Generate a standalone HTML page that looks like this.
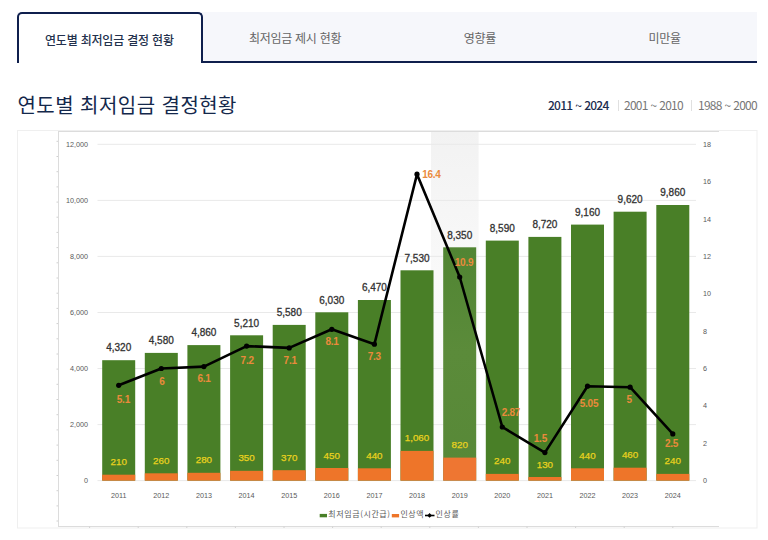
<!DOCTYPE html>
<html lang="ko"><head><meta charset="utf-8"><title>연도별 최저임금 결정현황</title>
<style>
*{margin:0;padding:0;box-sizing:border-box}
html,body{width:768px;height:540px;overflow:hidden;background:#fff}
body{position:relative;font-family:"Liberation Sans","Noto Sans CJK KR",sans-serif;}
.tabs{position:absolute;left:17px;top:12px;width:740px;height:51px;background:#f6f7fb;border-bottom:2px solid #0f1f4d;display:flex}
.tab{width:185px;height:49px;line-height:52px;text-align:center;font-size:12px;color:#656565;font-family:"Noto Sans CJK KR",sans-serif;letter-spacing:-0.3px}
.tab.on{background:#fff;border:2px solid #0f1f4d;border-bottom:none;border-radius:5px 5px 0 0;height:51px;color:#23314d;font-weight:500;line-height:51.5px;width:186px;letter-spacing:-0.2px;padding-right:1px}
h2{position:absolute;left:17.5px;top:93px;font-family:"Noto Sans CJK KR",sans-serif;font-weight:400;font-size:20px;color:#14284b;letter-spacing:0.45px;line-height:24px}
.per{position:absolute;left:0;top:97px;width:768px;height:16px;font-family:"Noto Sans CJK KR",sans-serif;font-size:12px;color:#777;line-height:16px;letter-spacing:-0.75px}
.per span{position:absolute;top:0;white-space:nowrap}
.per span.on{color:#1c2d4f;font-weight:500}
.per em{font-style:normal;letter-spacing:-0.6px}
.per i{position:absolute;top:3px;width:1px;height:11px;background:#e0e0e0}
.chart{position:absolute;left:0;top:0}
.ax{font-family:"Liberation Sans",sans-serif;font-size:7.2px;fill:#595959}
.vl{font-family:"Liberation Sans",sans-serif;font-size:10px;fill:#333;stroke:#333;stroke-width:0.3px}
.yl{font-family:"Liberation Sans",sans-serif;font-size:9.8px;font-weight:400;stroke:#e9d21e;stroke-width:0.25px;fill:#e9d21e}
.pl{font-family:"Liberation Sans",sans-serif;font-size:10px;font-weight:700;letter-spacing:-0.25px;fill:#ea8a3c}
.lg{font-family:"Noto Sans CJK KR",sans-serif;font-size:8px;letter-spacing:0.6px;fill:#595959}
</style></head><body>
<div class="tabs">
<div class="tab on">연도별 최저임금 결정 현황</div>
<div class="tab">최저임금 제시 현황</div>
<div class="tab">영향률</div>
<div class="tab">미만율</div>
</div>
<h2>연도별 최저임금 결정현황</h2>
<div class="per"><span class="on" style="left:548px">2011<em> ~ </em>2024</span><i style="left:617.5px"></i><span style="left:624px">2001<em> ~ </em>2010</span><i style="left:690.5px"></i><span style="left:698px">1988<em> ~ </em>2000</span></div>
<svg class="chart" width="768" height="540" viewBox="0 0 768 540"><rect x="17.5" y="130.5" width="739.5" height="397.5" fill="none" stroke="#efefef" stroke-width="1"/><path d="M58 131.5 H719 M58.5 131.5 V526.5 M58 526.5 H719" fill="none" stroke="#dcdcdc" stroke-width="1"/><path d="M56.5 141.3 H58 M56.5 156.5 H58 M56.5 171.7 H58 M56.5 186.9 H58 M56.5 202.1 H58 M56.5 217.2 H58 M56.5 232.4 H58 M56.5 247.6 H58 M56.5 262.8 H58 M56.5 278.0 H58 M56.5 293.2 H58 M56.5 308.4 H58 M56.5 323.6 H58 M56.5 338.8 H58 M56.5 354.0 H58 M56.5 369.1 H58 M56.5 384.3 H58 M56.5 399.5 H58 M56.5 414.7 H58 M56.5 429.9 H58 M56.5 445.1 H58 M56.5 460.3 H58 M56.5 475.5 H58 M56.5 490.7 H58 M56.5 505.9 H58 M56.5 521.0 H58 M89.6 526.5 V528 M138.2 526.5 V528 M186.8 526.5 V528 M235.4 526.5 V528 M284.0 526.5 V528 M332.6 526.5 V528 M381.2 526.5 V528 M429.8 526.5 V528 M478.4 526.5 V528 M527.0 526.5 V528 M575.6 526.5 V528 M624.2 526.5 V528 M672.8 526.5 V528" stroke="#d0d0d0" stroke-width="1"/><defs><linearGradient id="g19" x1="0" y1="0" x2="0" y2="1"><stop offset="0" stop-color="#518533"/><stop offset="0.45" stop-color="#5b8b3a"/><stop offset="1" stop-color="#578837"/></linearGradient><linearGradient id="bg" x1="0" y1="0" x2="0" y2="1"><stop offset="0" stop-color="#f2f2f2"/><stop offset="0.4" stop-color="#f9f9f9"/><stop offset="1" stop-color="#fdfdfd"/></linearGradient></defs><rect x="431" y="132" width="47.6" height="348.6" fill="url(#bg)"/><path d="M97.5 480.6 H696 M97.5 424.6 H696 M97.5 368.5 H696 M97.5 312.5 H696 M97.5 256.4 H696 M97.5 200.4 H696 M97.5 144.3 H696" stroke="#e9e9e9" stroke-width="1"/><text x="88" y="483.1" class="ax" text-anchor="end">0</text><text x="88" y="427.1" class="ax" text-anchor="end">2,000</text><text x="88" y="371.0" class="ax" text-anchor="end">4,000</text><text x="88" y="315.0" class="ax" text-anchor="end">6,000</text><text x="88" y="258.9" class="ax" text-anchor="end">8,000</text><text x="88" y="202.9" class="ax" text-anchor="end">10,000</text><text x="88" y="146.8" class="ax" text-anchor="end">12,000</text><text x="703" y="483.1" class="ax">0</text><text x="703" y="445.7" class="ax">2</text><text x="703" y="408.4" class="ax">4</text><text x="703" y="371.0" class="ax">6</text><text x="703" y="333.6" class="ax">8</text><text x="703" y="296.3" class="ax">10</text><text x="703" y="258.9" class="ax">12</text><text x="703" y="221.5" class="ax">14</text><text x="703" y="184.2" class="ax">16</text><text x="703" y="146.8" class="ax">18</text><rect x="102.2" y="360.2" width="33.0" height="120.4" fill="#497f27"/><rect x="102.2" y="474.7" width="33.0" height="5.9" fill="#ee7529"/><rect x="144.8" y="352.9" width="33.0" height="127.7" fill="#497f27"/><rect x="144.8" y="473.3" width="33.0" height="7.3" fill="#ee7529"/><rect x="187.4" y="345.1" width="33.0" height="135.5" fill="#497f27"/><rect x="187.4" y="472.8" width="33.0" height="7.8" fill="#ee7529"/><rect x="230.1" y="335.3" width="33.0" height="145.3" fill="#497f27"/><rect x="230.1" y="470.8" width="33.0" height="9.8" fill="#ee7529"/><rect x="272.7" y="324.9" width="33.0" height="155.7" fill="#497f27"/><rect x="272.7" y="470.2" width="33.0" height="10.4" fill="#ee7529"/><rect x="315.3" y="312.3" width="33.0" height="168.3" fill="#497f27"/><rect x="315.3" y="468.0" width="33.0" height="12.6" fill="#ee7529"/><rect x="357.9" y="300.0" width="33.0" height="180.6" fill="#497f27"/><rect x="357.9" y="468.3" width="33.0" height="12.3" fill="#ee7529"/><rect x="400.5" y="270.3" width="33.0" height="210.3" fill="#497f27"/><rect x="400.5" y="450.9" width="33.0" height="29.7" fill="#ee7529"/><rect x="443.2" y="247.3" width="33.0" height="233.3" fill="url(#g19)"/><rect x="443.2" y="457.6" width="33.0" height="23.0" fill="#ee7632"/><rect x="485.8" y="240.6" width="33.0" height="240.0" fill="#497f27"/><rect x="485.8" y="473.9" width="33.0" height="6.7" fill="#ee7529"/><rect x="528.4" y="236.9" width="33.0" height="243.7" fill="#497f27"/><rect x="528.4" y="477.0" width="33.0" height="3.6" fill="#ee7529"/><rect x="571.0" y="224.6" width="33.0" height="256.0" fill="#497f27"/><rect x="571.0" y="468.3" width="33.0" height="12.3" fill="#ee7529"/><rect x="613.6" y="211.7" width="33.0" height="268.9" fill="#497f27"/><rect x="613.6" y="467.7" width="33.0" height="12.9" fill="#ee7529"/><rect x="656.3" y="205.0" width="33.0" height="275.6" fill="#497f27"/><rect x="656.3" y="473.9" width="33.0" height="6.7" fill="#ee7529"/><text x="118.7" y="497.6" class="ax" text-anchor="middle">2011</text><text x="161.3" y="497.6" class="ax" text-anchor="middle">2012</text><text x="203.9" y="497.6" class="ax" text-anchor="middle">2013</text><text x="246.6" y="497.6" class="ax" text-anchor="middle">2014</text><text x="289.2" y="497.6" class="ax" text-anchor="middle">2015</text><text x="331.8" y="497.6" class="ax" text-anchor="middle">2016</text><text x="374.4" y="497.6" class="ax" text-anchor="middle">2017</text><text x="417.0" y="497.6" class="ax" text-anchor="middle">2018</text><text x="459.7" y="497.6" class="ax" text-anchor="middle">2019</text><text x="502.3" y="497.6" class="ax" text-anchor="middle">2020</text><text x="544.9" y="497.6" class="ax" text-anchor="middle">2021</text><text x="587.5" y="497.6" class="ax" text-anchor="middle">2022</text><text x="630.1" y="497.6" class="ax" text-anchor="middle">2023</text><text x="672.8" y="497.6" class="ax" text-anchor="middle">2024</text><text x="118.7" y="351.4" class="vl" text-anchor="middle">4,320</text><text x="161.3" y="344.1" class="vl" text-anchor="middle">4,580</text><text x="203.9" y="336.3" class="vl" text-anchor="middle">4,860</text><text x="246.6" y="326.5" class="vl" text-anchor="middle">5,210</text><text x="289.2" y="316.1" class="vl" text-anchor="middle">5,580</text><text x="331.8" y="303.5" class="vl" text-anchor="middle">6,030</text><text x="374.4" y="291.2" class="vl" text-anchor="middle">6,470</text><text x="417.0" y="261.5" class="vl" text-anchor="middle">7,530</text><text x="459.7" y="238.5" class="vl" text-anchor="middle">8,350</text><text x="502.3" y="231.8" class="vl" text-anchor="middle">8,590</text><text x="544.9" y="228.1" class="vl" text-anchor="middle">8,720</text><text x="587.5" y="215.8" class="vl" text-anchor="middle">9,160</text><text x="630.1" y="202.9" class="vl" text-anchor="middle">9,620</text><text x="672.8" y="196.2" class="vl" text-anchor="middle">9,860</text><text x="118.7" y="465.2" class="yl" text-anchor="middle">210</text><text x="161.3" y="463.8" class="yl" text-anchor="middle">260</text><text x="203.9" y="463.3" class="yl" text-anchor="middle">280</text><text x="246.6" y="461.3" class="yl" text-anchor="middle">350</text><text x="289.2" y="460.7" class="yl" text-anchor="middle">370</text><text x="331.8" y="458.5" class="yl" text-anchor="middle">450</text><text x="374.4" y="458.8" class="yl" text-anchor="middle">440</text><text x="417.0" y="441.4" class="yl" text-anchor="middle">1,060</text><text x="459.7" y="448.1" class="yl" text-anchor="middle">820</text><text x="502.3" y="464.4" class="yl" text-anchor="middle">240</text><text x="544.9" y="467.5" class="yl" text-anchor="middle">130</text><text x="587.5" y="458.8" class="yl" text-anchor="middle">440</text><text x="630.1" y="458.2" class="yl" text-anchor="middle">460</text><text x="672.8" y="464.4" class="yl" text-anchor="middle">240</text><polyline points="118.7,385.3 161.3,368.5 203.9,366.6 246.6,346.1 289.2,347.9 331.8,329.3 374.4,344.2 417.0,174.2 459.7,277.0 502.3,427.0 544.9,452.6 587.5,386.2 630.1,387.2 672.8,433.9" fill="none" stroke="#000" stroke-width="2.6" stroke-linejoin="round"/><circle cx="118.7" cy="385.3" r="2.6" fill="#000"/><circle cx="161.3" cy="368.5" r="2.6" fill="#000"/><circle cx="203.9" cy="366.6" r="2.6" fill="#000"/><circle cx="246.6" cy="346.1" r="2.6" fill="#000"/><circle cx="289.2" cy="347.9" r="2.6" fill="#000"/><circle cx="331.8" cy="329.3" r="2.6" fill="#000"/><circle cx="374.4" cy="344.2" r="2.6" fill="#000"/><circle cx="417.0" cy="174.2" r="2.6" fill="#000"/><circle cx="459.7" cy="277.0" r="2.6" fill="#000"/><circle cx="502.3" cy="427.0" r="2.6" fill="#000"/><circle cx="544.9" cy="452.6" r="2.6" fill="#000"/><circle cx="587.5" cy="386.2" r="2.6" fill="#000"/><circle cx="630.1" cy="387.2" r="2.6" fill="#000"/><circle cx="672.8" cy="433.9" r="2.6" fill="#000"/><text x="123.4" y="402.7" class="pl" text-anchor="middle">5.1</text><text x="161.9" y="385.2" class="pl" text-anchor="middle">6</text><text x="204.0" y="382.4" class="pl" text-anchor="middle">6.1</text><text x="247.2" y="363.5" class="pl" text-anchor="middle">7.2</text><text x="290.2" y="363.9" class="pl" text-anchor="middle">7.1</text><text x="332.1" y="345.3" class="pl" text-anchor="middle">8.1</text><text x="374.3" y="360.4" class="pl" text-anchor="middle">7.3</text><text x="431.4" y="177.6" class="pl" text-anchor="middle">16.4</text><text x="464.0" y="265.7" class="pl" text-anchor="middle">10.9</text><text x="510.9" y="416.4" class="pl" text-anchor="middle">2.87</text><text x="540.4" y="442.1" class="pl" text-anchor="middle">1.5</text><text x="589.0" y="407.3" class="pl" text-anchor="middle">5.05</text><text x="629.2" y="402.6" class="pl" text-anchor="middle">5</text><text x="671.5" y="447.1" class="pl" text-anchor="middle">2.5</text><rect x="319.7" y="513.9" width="7.3" height="3.4" fill="#497f27"/><text x="328.3" y="517.3" class="lg">최저임금(시간급)</text><rect x="391.8" y="514.0" width="7.3" height="3.4" fill="#ee7529"/><text x="400.4" y="517.3" class="lg">인상액</text><path d="M425 515.5 H434.5" stroke="#000" stroke-width="1.6"/><rect x="427.9" y="513.8" width="3.3" height="3.3" transform="rotate(45 429.6 515.5)" fill="#000"/><text x="435.6" y="517.3" class="lg">인상률</text></svg>
</body></html>
